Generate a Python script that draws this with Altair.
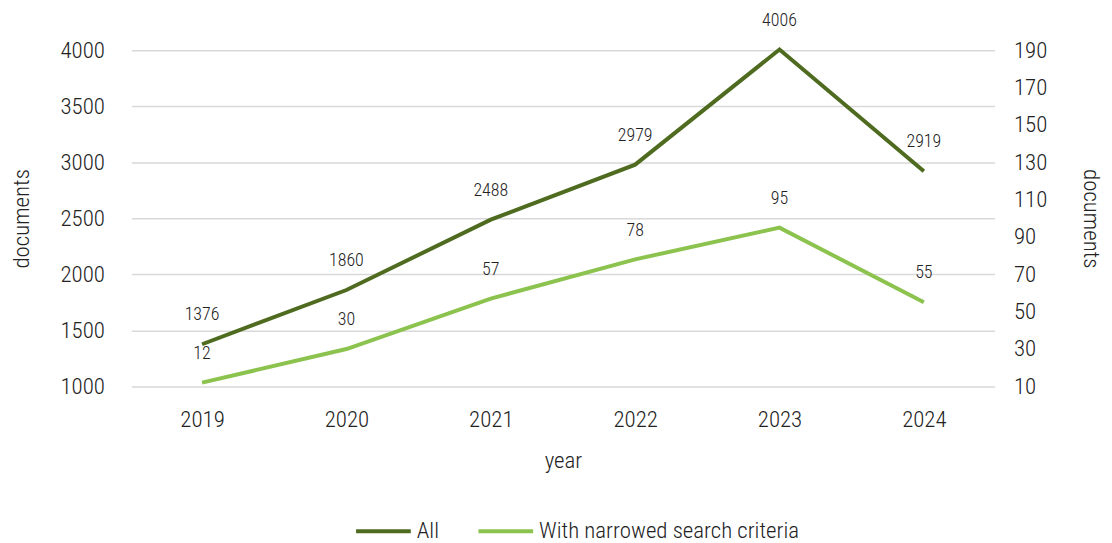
import altair as alt
import pandas as pd

years = ["2019", "2020", "2021", "2022", "2023", "2024"]
all_docs = [1376, 1860, 2488, 2979, 4006, 2919]
narrowed_docs = [12, 30, 57, 78, 95, 55]
series_names = ["All", "With narrowed search criteria"]
colors = ["#4e6b20", "#8cc34e"]

df = pd.DataFrame({
    "year": years * 2,
    "value": all_docs + narrowed_docs,
    "series": [series_names[0]] * 6 + [series_names[1]] * 6,
})

FONT = "Roboto Condensed, Liberation Sans Narrow, Roboto"
W = 300
FS = 23

x_enc = alt.X("year:O", title="year", sort=years,
              scale=alt.Scale(type="point", padding=0.49),
              axis=alt.Axis(labelAngle=0, ticks=False, domain=False, grid=False,
                            labelPadding=22,
                            titlePadding=19, labelFontSize=FS, titleFontSize=FS,
                            labelFont=FONT, titleFont=FONT, labelColor="#222",
                            titleColor="#222", titleFontWeight=W, labelFontWeight=W))

color_enc = alt.Color("series:N", title=None,
                      scale=alt.Scale(domain=series_names, range=colors),
                      legend=alt.Legend(orient="none", direction="horizontal",
                                        legendX=224, legendY=454,
                                        symbolType="stroke", symbolSize=3025,
                                        symbolStrokeWidth=4, labelFontSize=FS,
                                        labelFont=FONT, labelColor="#222",
                                        labelFontWeight=W,
                                        columnPadding=31, labelOffset=4,
                                        labelLimit=400))

left_base = alt.Chart(df).transform_filter(alt.datum.series == series_names[0])
right_base = alt.Chart(df).transform_filter(alt.datum.series == series_names[1])

y_left = alt.Y("value:Q", title="documents",
               scale=alt.Scale(domain=[1000, 4000], nice=False, zero=False),
               axis=alt.Axis(values=[1000, 1500, 2000, 2500, 3000, 3500, 4000],
                             format="d",
                             orient="left", domain=False, ticks=False,
                             gridColor="#d9d9d9", gridWidth=1.5,
                             labelPadding=27, labelFontSize=FS, titleFontSize=FS,
                             labelFont=FONT, titleFont=FONT, labelColor="#222",
                             titleColor="#222", titleFontWeight=W, labelFontWeight=W,
                             titlePadding=27))
y_right = alt.Y("value:Q", title="documents",
                scale=alt.Scale(domain=[10, 190], nice=False, zero=False),
                axis=alt.Axis(values=list(range(10, 191, 20)), format="d",
                              orient="right", domain=False, ticks=False, grid=False,
                              labelPadding=19, labelFontSize=FS, titleFontSize=FS,
                              labelFont=FONT, titleFont=FONT, labelColor="#222",
                              titleColor="#222", titleFontWeight=W, labelFontWeight=W,
                              titlePadding=32))

left_line = left_base.mark_line(strokeWidth=4).encode(x=x_enc, y=y_left, color=color_enc)
left_text = left_base.mark_text(dy=-29, fontSize=18, font=FONT, fontWeight=W,
                                color="#222").encode(
    x=x_enc, y=y_left, text=alt.Text("value:Q", format="d"))
right_line = right_base.mark_line(strokeWidth=4).encode(x=x_enc, y=y_right, color=color_enc)
right_text = right_base.mark_text(dy=-29, fontSize=18, font=FONT, fontWeight=W,
                                  color="#222").encode(
    x=x_enc, y=y_right, text=alt.Text("value:Q", format="d"))

left = alt.layer(left_line, left_text)
right = alt.layer(right_line, right_text)

chart = alt.layer(left, right).resolve_scale(y="independent").properties(
    width=868, height=338,
    view=alt.ViewBackground(stroke="transparent", strokeWidth=0),
    autosize=alt.AutoSizeParams(type="none"),
    padding={"left": 124, "top": 41, "right": 110, "bottom": 152},
).configure_view(strokeWidth=0, stroke="transparent").configure_axis(
    domain=False, ticks=False
).configure(background="white")

chart.save("out.html", embed_options={"renderer": "svg", "actions": False})
